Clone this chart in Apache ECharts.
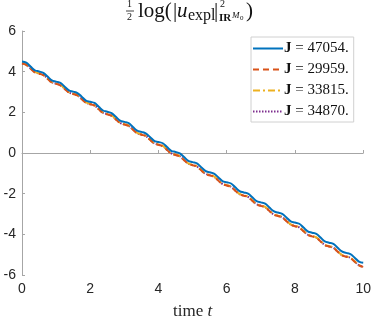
<!DOCTYPE html>
<html><head><meta charset="utf-8">
<script src="https://cdn.jsdelivr.net/npm/echarts@6/dist/echarts.min.js"></script>
<style>html,body{margin:0;padding:0;background:#fff}#c{width:374px;height:325px}</style>
</head><body><div id="c"></div>
<script>
const timeT = [0,0.125,0.25,0.375,0.5,0.625,0.75,0.875,1,1.125,1.25,1.375,1.5,1.625,1.75,1.875,2,2.125,2.25,2.375,2.5,2.625,2.75,2.875,3,3.125,3.25,3.375,3.5,3.625,3.75,3.875,4,4.125,4.25,4.375,4.5,4.625,4.75,4.875,5,5.125,5.25,5.375,5.5,5.625,5.75,5.875,6,6.125,6.25,6.375,6.5,6.625,6.75,6.875,7,7.125,7.25,7.375,7.5,7.625,7.75,7.875,8,8.125,8.25,8.375,8.5,8.625,8.75,8.875,9,9.125,9.25,9.375,9.5,9.625,9.75,9.875,10];
const seriesNames = ['47054.','29959.','33815.','34870.'];
const blueVals = [4.50,4.44,4.25,4.07, 4.01,3.94,3.76,3.57, 3.51,3.45,3.26,3.08, 3.02,2.95,2.77,2.58, 2.52,2.46,2.27,2.09, 2.03,1.96,1.78,1.59, 1.53,1.47,1.28,1.10, 1.04,0.97,0.79,0.60, 0.54,0.48,0.29,0.11, 0.05,-0.02,-0.20,-0.39, -0.45,-0.51,-0.70,-0.88, -0.95,-1.01,-1.19,-1.38, -1.44,-1.50,-1.69,-1.87, -1.94,-2.00,-2.18,-2.37, -2.43,-2.49,-2.68,-2.86, -2.93,-2.99,-3.17,-3.36, -3.42,-3.48,-3.67,-3.85, -3.92,-3.98,-4.16,-4.35, -4.41,-4.47,-4.66,-4.84, -4.91,-4.97,-5.15,-5.34, -5.40];
const redVals = [4.40,4.33,4.15,3.97, 3.90,3.83,3.65,3.47, 3.40,3.33,3.15,2.97, 2.90,2.83,2.65,2.47, 2.40,2.33,2.15,1.97, 1.90,1.83,1.65,1.47, 1.40,1.33,1.15,0.97, 0.90,0.83,0.65,0.47, 0.40,0.33,0.15,-0.03, -0.10,-0.17,-0.35,-0.53, -0.60,-0.67,-0.85,-1.03, -1.10,-1.17,-1.35,-1.53, -1.60,-1.67,-1.85,-2.03, -2.10,-2.17,-2.35,-2.53, -2.60,-2.67,-2.85,-3.03, -3.10,-3.17,-3.35,-3.53, -3.60,-3.67,-3.85,-4.03, -4.10,-4.17,-4.35,-4.53, -4.60,-4.67,-4.85,-5.03, -5.10,-5.17,-5.35,-5.53, -5.60];
const yellowVals = [4.42,4.35,4.17,3.99, 3.92,3.85,3.67,3.49, 3.42,3.35,3.17,2.99, 2.92,2.85,2.67,2.49, 2.42,2.35,2.17,1.99, 1.92,1.85,1.67,1.49, 1.42,1.35,1.17,0.99, 0.92,0.85,0.67,0.49, 0.42,0.35,0.17,-0.01, -0.08,-0.15,-0.33,-0.51, -0.58,-0.65,-0.83,-1.01, -1.08,-1.15,-1.33,-1.51, -1.58,-1.65,-1.83,-2.01, -2.08,-2.15,-2.33,-2.51, -2.58,-2.65,-2.83,-3.01, -3.08,-3.15,-3.33,-3.51, -3.58,-3.65,-3.83,-4.01, -4.08,-4.15,-4.33,-4.51, -4.58,-4.65,-4.83,-5.01, -5.08,-5.15,-5.33,-5.51, -5.58];
const purpleVals = [4.41,4.34,4.16,3.98, 3.91,3.84,3.66,3.48, 3.41,3.34,3.16,2.98, 2.91,2.84,2.66,2.48, 2.41,2.34,2.16,1.98, 1.91,1.84,1.66,1.48, 1.41,1.34,1.16,0.98, 0.91,0.84,0.66,0.48, 0.41,0.34,0.16,-0.02, -0.09,-0.16,-0.34,-0.52, -0.59,-0.66,-0.84,-1.02, -1.09,-1.16,-1.34,-1.52, -1.59,-1.66,-1.84,-2.02, -2.09,-2.16,-2.34,-2.52, -2.59,-2.66,-2.84,-3.02, -3.09,-3.16,-3.34,-3.52, -3.59,-3.66,-3.84,-4.02, -4.09,-4.16,-4.34,-4.52, -4.59,-4.66,-4.84,-5.02, -5.09,-5.16,-5.34,-5.52, -5.59];
const xTicks = [0,2,4,6,8,10];
const yTicks = [-6,-4,-2,0,2,4,6];

const colors = ['#0072BD','#D95319','#EDB120','#7E2F8E'];
const lineTypes = ['solid',[6,4],[7,3,2,3],[1.5,1.5]];
const allVals = [blueVals, redVals, yellowVals, purpleVals];
const serif = 'Liberation Serif';

const chart = echarts.init(document.getElementById('c'), null, {renderer:'canvas'});
const series = allVals.map((vals,i)=>({
  name: seriesNames[i],
  type:'line',
  data: vals.map((v,j)=>[timeT[j], v]),
  smooth: 0.4,
  showSymbol:false, symbol:'none',
  lineStyle:{color:colors[i], width:2, type:lineTypes[i]},
  itemStyle:{color:colors[i]},
  z: 10 - i
}));
const axisColor = '#a6a6a6';
const T = (left, top, text, font) => ({type:'text', left, top, style:{text, font, fill:'#111'}});
chart.setOption({
  animation:false,
  backgroundColor:'#fff',
  grid:{left:22, right:10, top:31, bottom:47},
  xAxis:{type:'value', min:xTicks[0], max:xTicks[xTicks.length-1], interval:2,
    axisLine:{lineStyle:{color:axisColor,width:1}},
    axisTick:{inside:true, length:3, lineStyle:{color:axisColor}},
    axisLabel:{color:'#262626', fontSize:14, fontFamily:'Liberation Sans', margin:7},
    splitLine:{show:false},
    name:'time {i|t}', nameLocation:'middle', nameGap:28,
    nameTextStyle:{fontFamily:serif, fontSize:17, color:'#262626',
      rich:{i:{fontFamily:serif, fontStyle:'italic', fontSize:17, color:'#262626'}}}
  },
  yAxis:{type:'value', min:yTicks[0], max:yTicks[yTicks.length-1], interval:2,
    axisLine:{show:true, lineStyle:{color:axisColor,width:1}},
    axisTick:{show:true, inside:true, length:3, lineStyle:{color:axisColor}},
    axisLabel:{color:'#262626', fontSize:14, fontFamily:'Liberation Sans', margin:6},
    splitLine:{show:false}
  },
  legend:{
    orient:'vertical', left:251, top:37, padding:[4,5,3,1],
    itemWidth:30, itemHeight:12, itemGap:6,
    backgroundColor:'#fff', borderColor:'#d0d0d0', borderWidth:1,
    itemStyle:{opacity:0},
    data: seriesNames.map((n,i)=>({name:n})),
    formatter: n => '{b|J} = ' + n,
    textStyle:{fontFamily:serif, fontSize:15, color:'#111', lineHeight:12, padding:[0,0,0,-4],
      rich:{b:{fontFamily:serif, fontWeight:'bold', fontSize:15, color:'#111', lineHeight:12}}}
  },
  graphic:[
    T(127, -1, '1', '10px '+serif),
    {type:'line', shape:{x1:126, y1:11, x2:134, y2:11}, style:{stroke:'#111', lineWidth:0.8}},
    T(127, 12, '2', '10px '+serif),
    T(138, 1, 'log(', '21px '+serif),
    T(173, 1, '|', '21px '+serif),
    T(177, 1, 'u', 'italic 21px '+serif),
    T(188, 8, 'expl', '16px '+serif),
    T(214, 1, '|', '21px '+serif),
    T(220, -1, '2', '10px '+serif),
    T(219, 13, 'IR', 'bold 11px '+serif),
    T(232, 11, 'M', 'italic 9px '+serif),
    T(240, 15, '0', '7px '+serif),
    T(246, 1, ')', '21px '+serif)
  ],
  series: series
});
</script></body></html>
